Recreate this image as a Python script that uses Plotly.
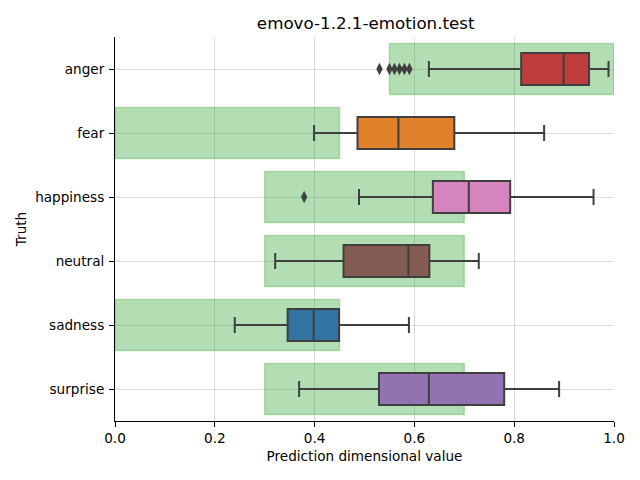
import plotly.graph_objects as go

categories = ["anger", "fear", "happiness", "neutral", "sadness", "surprise"]
lower_whisker = [0.629, 0.399, 0.489, 0.321, 0.240, 0.369]
q1_vals = [0.814, 0.486, 0.637, 0.458, 0.346, 0.529]
median_vals = [0.899, 0.568, 0.709, 0.588, 0.398, 0.629]
q3_vals = [0.950, 0.680, 0.792, 0.630, 0.449, 0.780]
upper_whisker = [0.989, 0.860, 0.959, 0.729, 0.589, 0.890]
box_colors = ["#c03d3e", "#e1812c", "#d684bd", "#845b53", "#3274a1", "#9372b2"]
range_low = [0.55, 0.0, 0.30, 0.30, 0.0, 0.30]
range_high = [1.0, 0.45, 0.70, 0.70, 0.45, 0.70]
outlier_cat = ["anger"] * 6 + ["happiness"]
outlier_val = [0.530, 0.550, 0.560, 0.570, 0.580, 0.590, 0.379]

fig = go.Figure()

fig.add_trace(go.Bar(
    y=categories,
    x=[h - l for h, l in zip(range_high, range_low)],
    base=range_low,
    orientation="h",
    width=0.8,
    marker=dict(color="rgba(44,160,44,0.36)", line=dict(color="rgba(44,160,44,0.3)", width=1.5)),
    showlegend=False,
    hoverinfo="skip",
))

for i, c in enumerate(categories):
    fig.add_trace(go.Box(
        y=[c],
        q1=[q1_vals[i]],
        median=[median_vals[i]],
        q3=[q3_vals[i]],
        lowerfence=[lower_whisker[i]],
        upperfence=[upper_whisker[i]],
        orientation="h",
        width=0.5,
        whiskerwidth=0.5,
        fillcolor=box_colors[i],
        line=dict(color="#3f3f3f", width=2),
        showlegend=False,
        boxpoints=False,
    ))

fig.add_trace(go.Scatter(
    x=outlier_val,
    y=outlier_cat,
    mode="markers",
    marker=dict(symbol="diamond-tall", size=9, color="#3f3f3f"),
    showlegend=False,
))

fig.update_layout(
    width=632,
    height=472,
    margin=dict(l=107, r=26, t=29, b=59),
    plot_bgcolor="white",
    paper_bgcolor="white",
    boxmode="overlay",
    barmode="overlay",
    font=dict(family="DejaVu Sans", size=13.6, color="black"),
    title=dict(text="emovo-1.2.1-emotion.test", x=0.566, xanchor="center", y=0.968, yanchor="middle",
               font=dict(size=16.7, color="black")),
)

fig.update_xaxes(
    range=[0, 1],
    tickvals=[0, 0.2, 0.4, 0.6, 0.8, 1.0],
    ticktext=["0.0", "0.2", "0.4", "0.6", "0.8", "1.0"],
    showgrid=True,
    gridcolor="rgba(176,176,176,0.45)",
    gridwidth=1,
    showline=True,
    linecolor="black",
    linewidth=1,
    ticks="outside",
    ticklen=5,
    tickcolor="black",
    zeroline=False,
    automargin=False,
    layer="above traces",
    title=dict(text="Prediction dimensional value", font=dict(size=13.6), standoff=6),
)

fig.update_yaxes(
    type="category",
    categoryorder="array",
    categoryarray=categories,
    range=[5.5, -0.5],
    showgrid=True,
    gridcolor="rgba(176,176,176,0.45)",
    gridwidth=1,
    showline=True,
    linecolor="black",
    linewidth=1,
    ticks="outside",
    ticklen=5,
    tickcolor="black",
    ticklabelstandoff=2,
    zeroline=False,
    automargin=False,
    layer="above traces",
    title=dict(text="Truth", font=dict(size=13.6), standoff=5),
)

fig.write_html("out.html")
